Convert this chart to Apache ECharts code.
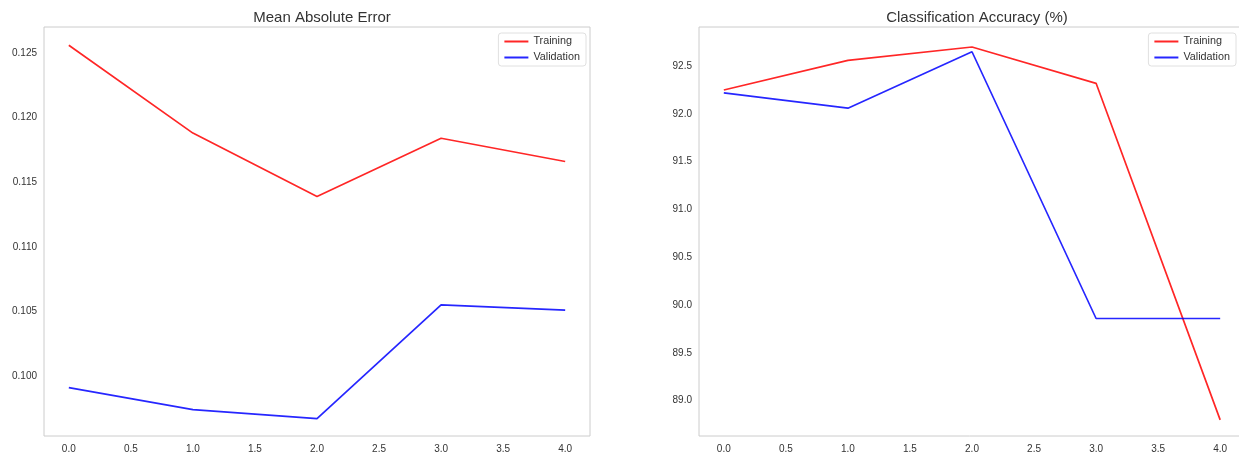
<!DOCTYPE html>
<html>
<head>
<meta charset="utf-8">
<script src="https://cdn.jsdelivr.net/npm/echarts@6/dist/echarts.min.js"></script>
<style>
  html, body { margin: 0; padding: 0; background: #ffffff; }
  #chart { width: 1239px; height: 456px; }
</style>
</head>
<body>
<div id="chart"></div>
<script>
// ---- data ----
const epochs = [0, 1, 2, 3, 4];
const seriesNames = ['Training', 'Validation'];
const maeTraining = [0.1256, 0.1188, 0.1139, 0.1184, 0.1166];
const maeValidation = [0.0991, 0.0974, 0.0967, 0.1055, 0.1051];
const accTraining = [92.25, 92.56, 92.70, 92.32, 88.80];
const accValidation = [92.22, 92.06, 92.65, 89.86, 89.86];
const xTicks = [0.0, 0.5, 1.0, 1.5, 2.0, 2.5, 3.0, 3.5, 4.0];
const maeTicks = [0.100, 0.105, 0.110, 0.115, 0.120, 0.125];
const accTicks = [89.0, 89.5, 90.0, 90.5, 91.0, 91.5, 92.0, 92.5];
const titles = ['Mean Absolute Error', 'Classification Accuracy (%)'];

// ---- chart ----
const FONT = 'Liberation Sans, Arial, sans-serif';
const TEXT = '#333333';
const pairs = (ys) => epochs.map((x, i) => [x, ys[i]]);

const grids = [
  { left: 44, top: 27, width: 546, height: 409 },
  { left: 699, top: 27, width: 546, height: 409 }
];

function xAxisFor(gi) {
  return {
    type: 'value', gridIndex: gi, min: -0.2, max: 4.2,
    axisLine: { show: false }, axisTick: { show: false }, splitLine: { show: false },
    axisLabel: {
      customValues: xTicks, formatter: (v) => v.toFixed(1),
      fontFamily: FONT, fontSize: 10, color: TEXT, margin: 8
    }
  };
}
function yAxisFor(gi, ticks, lo, hi, dec) {
  return {
    type: 'value', gridIndex: gi, min: lo, max: hi, scale: true,
    axisLine: { show: false }, axisTick: { show: false }, splitLine: { show: false },
    axisLabel: {
      customValues: ticks, formatter: (v) => v.toFixed(dec),
      fontFamily: FONT, fontSize: 10, color: TEXT, margin: 7
    }
  };
}
function lineSeries(name, gi, ys, color) {
  return {
    name: name, type: 'line', xAxisIndex: gi, yAxisIndex: gi,
    data: pairs(ys), symbol: 'none', animation: false,
    lineStyle: { color: color, width: 1.7, opacity: 0.85 },
    itemStyle: { color: color, opacity: 0.85 }
  };
}
function legendFor(right) {
  return {
    data: seriesNames, right: right, top: 33, orient: 'vertical',
    icon: 'rect', itemWidth: 24, itemHeight: 2, itemGap: 5,
    textStyle: { fontFamily: FONT, fontSize: 10.8, color: TEXT },
    backgroundColor: '#ffffff', borderColor: '#e0e0e0', borderWidth: 1, borderRadius: 3,
    padding: [3, 6, 3, 6], selectedMode: false
  };
}

const option = {
  backgroundColor: '#ffffff',
  animation: false,
  title: [
    { text: titles[0], left: 317, top: 5, textAlign: 'center',
      textStyle: { fontFamily: FONT, fontSize: 15, fontWeight: 'normal', color: TEXT } },
    { text: titles[1], left: 972, top: 5, textAlign: 'center',
      textStyle: { fontFamily: FONT, fontSize: 15, fontWeight: 'normal', color: TEXT } }
  ],
  grid: grids.map(g => Object.assign({ show: true, borderColor: '#cccccc', borderWidth: 1,
    backgroundColor: '#ffffff', outerBoundsMode: 'none', containLabel: false }, g)),
  legend: [legendFor(1239 - 586), legendFor(3)],
  xAxis: [xAxisFor(0), xAxisFor(1)],
  yAxis: [
    yAxisFor(0, maeTicks, 0.09536, 0.12701, 3),
    yAxisFor(1, accTicks, 88.631, 92.909, 1)
  ],
  series: [
    lineSeries(seriesNames[0], 0, maeTraining, '#ff0000'),
    lineSeries(seriesNames[1], 0, maeValidation, '#0000ff'),
    lineSeries(seriesNames[0], 1, accTraining, '#ff0000'),
    lineSeries(seriesNames[1], 1, accValidation, '#0000ff')
  ]
};

const chart = echarts.init(document.getElementById('chart'), null, { renderer: 'canvas' });
chart.setOption(option);
</script>
</body>
</html>
